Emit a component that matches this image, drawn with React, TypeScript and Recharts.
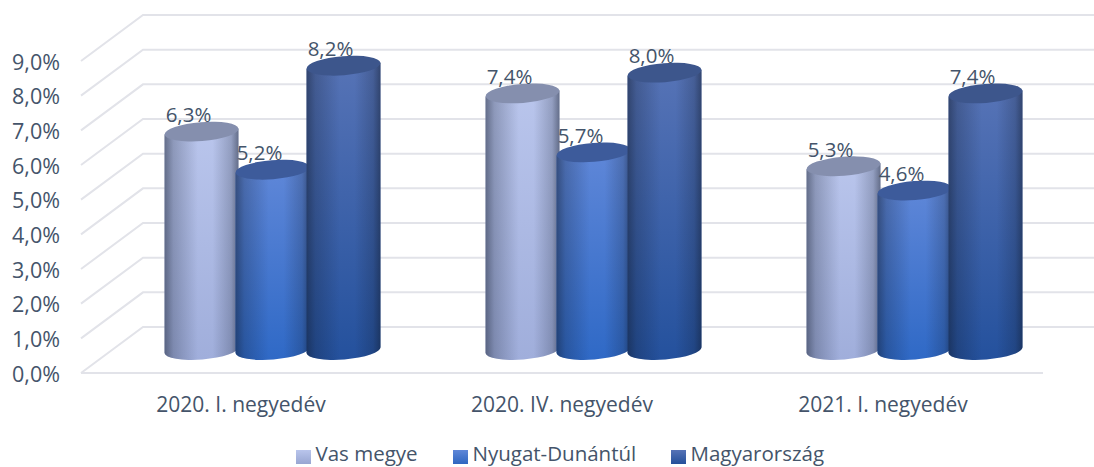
import { BarChart, Bar, XAxis, YAxis, Legend, CartesianGrid } from 'recharts';

const categories = ['2020. I. negyedév', '2020. IV. negyedév', '2021. I. negyedév'];
const vasMegye = [6.3, 7.4, 5.3];
const nyugatDunantul = [5.2, 5.7, 4.6];
const magyarorszag = [8.2, 8.0, 7.4];
const yTicks = [0, 1, 2, 3, 4, 5, 6, 7, 8, 9];

const chartData = categories.map((name, i) => ({
  name,
  vas: vasMegye[i],
  nyugat: nyugatDunantul[i],
  magyar: magyarorszag[i],
}));

const TEXT = '#44546a';
const GRID = '#e2e3e9';
const FONT = '"Open Sans", sans-serif';
const PLOT_BOTTOM = 350;
const DEPTH = 23; // half of the floor's vertical depth
const TILT = -4.5;

const percent = (v: number) => v.toFixed(1).replace('.', ',') + '%';

/* ---- series look ---- */
const looks = {
  vas: { label: 'Vas megye', top: '#b9c5ec', bottom: '#a0aedb', cap: '#858fae', swatchBottom: '#98a6d2' },
  nyugat: { label: 'Nyugat-Dunántúl', top: '#5f87d8', bottom: '#2f69c6', cap: '#3d5b9b', swatchBottom: '#2f66c0' },
  magyar: { label: 'Magyarország', top: '#5673b6', bottom: '#24519d', cap: '#3d568c', swatchBottom: '#24509a' },
};
type SeriesKey = keyof typeof looks;

function Cylinder({ x, y, width, height, seriesKey }: any) {
  const look = looks[seriesKey as SeriesKey];
  const rx = width / 2;
  const ry = 9.5;
  const rise = 3;
  const baseY = y + height;
  const cx = x + rx;
  const body =
    `M${x},${y + rise} L${x + width},${y - rise} L${x + width},${baseY - rise} ` +
    `A${rx},${ry} ${TILT} 0 1 ${x},${baseY + rise} Z`;
  return (
    <g>
      <path d={body} fill={`url(#body-${seriesKey})`} />
      <path d={body} fill="url(#shade)" />
      <ellipse cx={cx} cy={y} rx={rx} ry={ry} fill={look.cap} transform={`rotate(${TILT} ${cx} ${y})`} />
    </g>
  );
}

function ValueLabel({ x, y, width, value }: any) {
  return (
    <text
      x={x + width / 2 - 13}
      y={y - 17.5}
      textAnchor="middle"
      dominantBaseline="central"
      fontFamily={FONT}
      fontSize={20.5}
      fill={TEXT}
    >
      {percent(value)}
    </text>
  );
}

// one gridline: left-hand side wall, then along the back wall
function GridLine({ y1 }: any) {
  const front = y1 + DEPTH;
  const back = y1 - DEPTH;
  return (
    <g>
      <polyline points={`81,${front} 143,${back} 1094,${back}`} fill="none" stroke={GRID} strokeWidth={2} />
      {y1 >= PLOT_BOTTOM - 1 && <line x1={81} x2={1043} y1={front} y2={front} stroke={GRID} strokeWidth={2} />}
    </g>
  );
}

function YTick({ y, payload }: any) {
  return (
    <text x={60} y={y + DEPTH} textAnchor="end" dominantBaseline="central" fontFamily={FONT} fontSize={21.5} fill={TEXT}>
      {percent(payload.value)}
    </text>
  );
}

function XTick({ x, payload }: any) {
  return (
    <text x={x - 31} y={404} textAnchor="middle" dominantBaseline="central" fontFamily={FONT} fontSize={21} fill={TEXT}>
      {payload.value}
    </text>
  );
}

function LegendRow() {
  const items: { key: SeriesKey; left: number }[] = [
    { key: 'vas', left: 296 },
    { key: 'nyugat', left: 453 },
    { key: 'magyar', left: 671 },
  ];
  return (
    <div style={{ position: 'relative', height: 14, fontFamily: FONT, fontSize: 20.5, color: TEXT }}>
      {items.map(({ key, left }) => (
        <div key={key} style={{ position: 'absolute', left, top: 0, display: 'flex', alignItems: 'center', height: 14, whiteSpace: 'nowrap' }}>
          <span
            style={{
              width: 14.5,
              height: 14,
              marginRight: 5,
              background: `linear-gradient(${looks[key].top}, ${looks[key].swatchBottom})`,
            }}
          />
          <span style={{ lineHeight: 1, position: 'relative', top: -4 }}>{looks[key].label}</span>
        </div>
      ))}
    </div>
  );
}

export default function App() {
  return (
    <div style={{ position: 'absolute', left: 0, top: 0, width: 1094, height: 467, background: '#fff', overflow: 'hidden' }}>
      <BarChart
        width={1094}
        height={467}
        data={chartData}
        margin={{ top: 38, right: 19.5, bottom: 67, left: 0 }}
        barSize={74}
        barGap={-3}
      >
        <defs>
          {(Object.keys(looks) as SeriesKey[]).map((k) => (
            <linearGradient key={k} id={`body-${k}`} x1="0" y1="0" x2="0" y2="1">
              <stop offset="0%" stopColor={looks[k].top} />
              <stop offset="100%" stopColor={looks[k].bottom} />
            </linearGradient>
          ))}
          <linearGradient id="shade" x1="0" y1="0" x2="1" y2="0">
            <stop offset="0%" stopColor="#101828" stopOpacity={0.5} />
            <stop offset="12%" stopColor="#101828" stopOpacity={0.25} />
            <stop offset="45%" stopColor="#101828" stopOpacity={0} />
            <stop offset="65%" stopColor="#101828" stopOpacity={0} />
            <stop offset="90%" stopColor="#101828" stopOpacity={0.22} />
            <stop offset="100%" stopColor="#101828" stopOpacity={0.5} />
          </linearGradient>
        </defs>
        <CartesianGrid vertical={false} horizontal={<GridLine />} />
        <YAxis
          domain={[0, 9]}
          ticks={yTicks}
          width={111.5}
          axisLine={false}
          tickLine={false}
          interval={0}
          tick={<YTick />}
        />
        <XAxis dataKey="name" height={50} axisLine={false} tickLine={false} tick={<XTick />} />
        <Legend
          verticalAlign="middle"
          layout="horizontal"
          content={<LegendRow />}
          wrapperStyle={{ left: 0, top: 450, width: 1094, height: 14 }}
        />
        {(Object.keys(looks) as SeriesKey[]).map((k) => (
          <Bar
            key={k}
            dataKey={k}
            isAnimationActive={false}
            shape={(p: any) => <Cylinder {...p} seriesKey={k} />}
            label={<ValueLabel />}
          />
        ))}
      </BarChart>
    </div>
  );
}
